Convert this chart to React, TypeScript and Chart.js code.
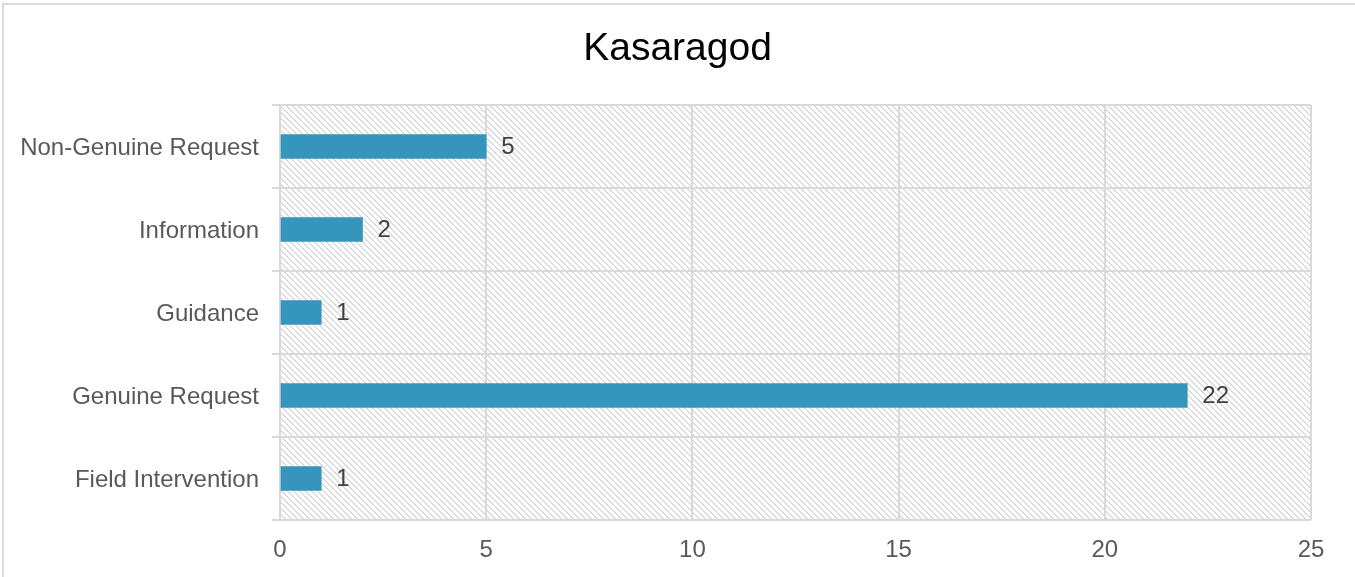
import React, { useEffect, useRef } from "react";
import { Chart, registerables } from "chart.js";

Chart.register(...registerables);

const chartTitle = "Kasaragod";
const categories = [
  "Non-Genuine Request",
  "Information",
  "Guidance",
  "Genuine Request",
  "Field Intervention",
];
const counts = [5, 2, 1, 22, 1];
const xTickMin = 0;
const xTickMax = 25;
const xTickStep = 5;

const BAR_COLOR = "#3595bc";
const GRID_COLOR = "#d9d9d9";
const TEXT_COLOR = "#595959";
const FONT = "'Liberation Sans', Arial, sans-serif";

function makeHatch(): CanvasPattern | string {
  const c = document.createElement("canvas");
  c.width = 6;
  c.height = 6;
  const g = c.getContext("2d");
  if (!g) return "#ffffff";
  g.fillStyle = "#ffffff";
  g.fillRect(0, 0, 6, 6);
  g.fillStyle = "#dcdcdc";
  for (let i = 0; i < 6; i++) {
    g.fillRect(i, i, 1, 1);
    g.fillRect((i + 1) % 6, i, 1, 1);
  }
  const p = g.createPattern(c, "repeat");
  return p || "#ffffff";
}

const backgroundPlugin = {
  id: "bgHatch",
  beforeDraw(chart: any) {
    const { ctx, chartArea } = chart;
    ctx.save();
    ctx.fillStyle = "#ffffff";
    ctx.fillRect(0, 0, chart.width, chart.height);
    ctx.strokeStyle = GRID_COLOR;
    ctx.lineWidth = 2;
    ctx.strokeRect(3, 4, chart.width + 10, chart.height + 10);
    ctx.fillStyle = makeHatch();
    ctx.fillRect(
      chartArea.left,
      chartArea.top,
      chartArea.right - chartArea.left,
      chartArea.bottom - chartArea.top
    );
    ctx.restore();
  },
};

const titlePlugin = {
  id: "centeredTitle",
  afterDraw(chart: any) {
    const { ctx } = chart;
    ctx.save();
    ctx.font = `39px ${FONT}`;
    ctx.fillStyle = "#000000";
    ctx.textAlign = "center";
    ctx.textBaseline = "middle";
    ctx.fillText(chartTitle, chart.width / 2, 49);
    ctx.restore();
  },
};

const valueLabelPlugin = {
  id: "valueLabels",
  afterDatasetsDraw(chart: any) {
    const { ctx } = chart;
    const meta = chart.getDatasetMeta(0);
    const data = chart.data.datasets[0].data;
    ctx.save();
    ctx.font = `24px ${FONT}`;
    ctx.fillStyle = "#404040";
    ctx.textAlign = "left";
    ctx.textBaseline = "middle";
    meta.data.forEach((bar: any, i: number) => {
      ctx.fillText(String(data[i]), bar.x + 15, bar.y + 1);
    });
    ctx.restore();
  },
};

export default function App() {
  const ref = useRef<HTMLCanvasElement | null>(null);

  useEffect(() => {
    if (!ref.current) return;
    const chart = new Chart(ref.current, {
      type: "bar",
      data: {
        labels: categories,
        datasets: [
          {
            data: counts,
            backgroundColor: BAR_COLOR,
            borderWidth: 0,
            barThickness: 24,
          },
        ],
      },
      options: {
        indexAxis: "y",
        responsive: false,
        animation: false,
        layout: { padding: { left: 0, right: 44, top: 105, bottom: 0 } },
        plugins: {
          legend: { display: false },
          tooltip: { enabled: false },
          title: { display: false },
        },
        scales: {
          x: {
            min: xTickMin,
            max: xTickMax,
            ticks: {
              stepSize: xTickStep,
              color: TEXT_COLOR,
              font: { family: FONT, size: 24 },
              padding: 16,
            },
            grid: { color: GRID_COLOR, lineWidth: 2, drawTicks: false },
            border: { display: false },
            afterFit(scale: any) {
              scale.height = 57;
            },
          },
          y: {
            ticks: {
              color: TEXT_COLOR,
              font: { family: FONT, size: 24 },
              padding: 13,
              labelOffset: 2,
            },
            grid: {
              color: GRID_COLOR,
              lineWidth: 2,
              drawTicks: true,
              tickLength: 8,
              offset: true,
            },
            border: { display: true, color: GRID_COLOR, width: 2 },
            afterFit(scale: any) {
              scale.width = 280;
            },
          },
        },
      },
      plugins: [backgroundPlugin, valueLabelPlugin, titlePlugin],
    });
    return () => chart.destroy();
  }, []);

  return (
    <div style={{ position: "fixed", left: 0, top: 0, width: 1355, height: 577, background: "#fff" }}>
      <canvas ref={ref} width={1355} height={577} />
    </div>
  );
}
